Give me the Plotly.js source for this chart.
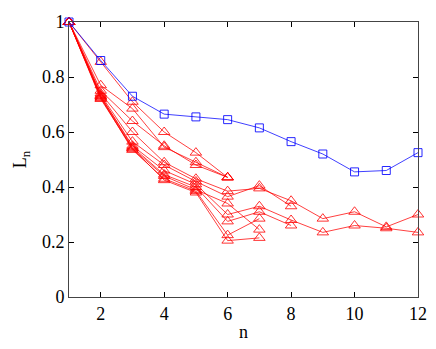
<!DOCTYPE html>
<html>
<head>
<meta charset="utf-8">
<script src="https://cdn.plot.ly/plotly-3.0.1.min.js"></script>
<style>
  body { margin: 0; background: #fff; }
  #chart { width: 436px; height: 349px; }
</style>
</head>
<body>
<div id="chart"></div>
<script>
// blue reference curve, n = 1..12
var nBlue = [1, 2, 3, 4, 5, 6, 7, 8, 9, 10, 11, 12];
var lBlue = [1, 0.86, 0.73, 0.665, 0.655, 0.645, 0.615, 0.565, 0.52, 0.455, 0.46, 0.525];

// red curves (different lengths)
var red1 = [1, 0.855, 0.71, 0.60, 0.525, 0.435];
var red2 = [1, 0.77, 0.685, 0.545, 0.49, 0.435];
var red3 = [1, 0.75, 0.64, 0.55, 0.48, 0.435];
var red4 = [1, 0.74, 0.60, 0.49, 0.43, 0.385, 0.395, 0.35, 0.285, 0.31, 0.255, 0.30];
var red5 = [1, 0.735, 0.565, 0.48, 0.42, 0.365, 0.405, 0.33];
var red6 = [1, 0.73, 0.55, 0.46, 0.41, 0.30, 0.33, 0.28, 0.235, 0.26, 0.25, 0.235];
var red7 = [1, 0.73, 0.545, 0.445, 0.40, 0.275, 0.31, 0.26];
var red8 = [1, 0.725, 0.54, 0.44, 0.39, 0.34, 0.245];
var red9 = [1, 0.725, 0.535, 0.43, 0.385, 0.225, 0.285];
var red10 = [1, 0.72, 0.54, 0.425, 0.38, 0.205, 0.215];
var redSeries = [red1, red2, red3, red4, red5, red6, red7, red8, red9, red10];

var xTicks = [2, 4, 6, 8, 10, 12];
var yTicks = [0, 0.2, 0.4, 0.6, 0.8, 1];
var yTickText = ['0', '0.2', '0.4', '0.6', '0.8', '1'];

var data = [];
redSeries.forEach(function (ys) {
  data.push({
    x: nBlue.slice(0, ys.length),
    y: ys,
    mode: 'lines+markers',
    type: 'scatter',
    cliponaxis: false,
    line: {color: 'rgba(255,0,0,0.75)', width: 1},
    marker: {symbol: 'triangle-up-open', size: 10, color: 'rgba(255,0,0,0.8)', line: {width: 1}},
    showlegend: false
  });
});

data.push({
  x: nBlue,
  y: lBlue,
  mode: 'lines+markers',
  type: 'scatter',
  cliponaxis: false,
  line: {color: 'rgba(0,0,255,0.75)', width: 1},
  marker: {symbol: 'square-open', size: 8, color: 'rgba(0,0,255,0.85)', line: {width: 1}},
  showlegend: false
});

var layout = {
  width: 436,
  height: 349,
  margin: {l: 69, r: 18, t: 22, b: 52},
  font: {family: 'Liberation Serif', size: 18, color: '#000'},
  plot_bgcolor: '#fff',
  paper_bgcolor: '#fff',
  xaxis: {
    range: [1, 12],
    tickvals: xTicks,
    ticks: 'inside',
    ticklen: 5,
    tickcolor: '#000',
    showline: true,
    linecolor: '#444',
    mirror: 'ticks',
    showgrid: false,
    zeroline: false,
    title: {text: 'n', font: {size: 18}, standoff: 2}
  },
  yaxis: {
    range: [0, 1],
    tickvals: yTicks,
    ticktext: yTickText,
    ticks: 'inside',
    ticklen: 5,
    tickcolor: '#000',
    showline: true,
    linecolor: '#444',
    mirror: 'ticks',
    showgrid: false,
    zeroline: false,
    title: {text: 'L<sub>n</sub>', font: {size: 18}, standoff: 10}
  }
};

Plotly.newPlot('chart', data, layout, {displayModeBar: false, staticPlot: true});
</script>
</body>
</html>
